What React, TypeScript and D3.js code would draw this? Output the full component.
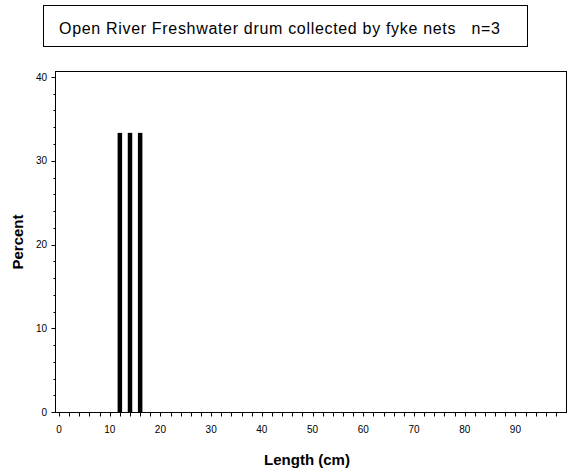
import React from "react";
import { scaleLinear, range } from "d3";

// length bins (cm) and the percent of fish in each
const lengthBins = [12, 14, 16];
const percentValues = [33.33, 33.33, 33.33];

const yMajorTicks = [0, 10, 20, 30, 40];
const yMinorTicks = range(0, 41, 2);
const xTickLabels = [0, 10, 20, 30, 40, 50, 60, 70, 80, 90];
const xTicks = range(0, 99, 2);

const titleText = "Open River Freshwater drum collected by fyke nets   n=3";

const App = () => {
  const width = 570,
    height = 475;
  const frame = { left: 55, right: 566, top: 71, bottom: 412 };

  const x = scaleLinear().domain([0, 98]).range([59, 556]);
  const y = scaleLinear().domain([0, 40]).range([412, 77]);
  const barWidth = 4.5;
  const font = "'Liberation Sans', Arial, sans-serif";

  return (
    <svg
      width={width}
      height={height}
      style={{ position: "absolute", left: 0, top: 0, background: "#fff" }}
      fontFamily={font}
    >
      {/* title box */}
      <rect x={43.5} y={5.5} width={484} height={41} fill="none" stroke="#000" />
      <text
        x={59}
        y={34}
        fontSize={16}
        textLength={441}
        lengthAdjust="spacing"
        style={{ whiteSpace: "pre" }}
      >
        {titleText}
      </text>

      {/* bars */}
      {lengthBins.map((d, i) => (
        <rect
          key={d}
          x={x(d) - barWidth / 2}
          y={y(percentValues[i])}
          width={barWidth}
          height={y(0) - y(percentValues[i])}
          fill="#000"
        />
      ))}

      {/* frame */}
      <rect
        x={frame.left + 0.5}
        y={frame.top + 0.5}
        width={frame.right - frame.left}
        height={frame.bottom - frame.top}
        fill="none"
        stroke="#000"
      />

      {/* y axis */}
      {yMinorTicks.map((t) => {
        const major = t % 10 === 0;
        return (
          <line
            key={t}
            x1={frame.left + 0.5}
            x2={frame.left + 0.5 - (major ? 4 : 2)}
            y1={Math.round(y(t)) + 0.5}
            y2={Math.round(y(t)) + 0.5}
            stroke="#000"
          />
        );
      })}
      {yMajorTicks.map((t) => (
        <text key={t} x={47} y={y(t) + 3.5} fontSize={10} textAnchor="end">
          {t}
        </text>
      ))}

      {/* x axis */}
      {xTicks.map((t) => (
        <line
          key={t}
          x1={Math.round(x(t)) + 0.5}
          x2={Math.round(x(t)) + 0.5}
          y1={frame.bottom + 0.5}
          y2={frame.bottom + 4.5}
          stroke="#000"
        />
      ))}
      {xTickLabels.map((t) => (
        <text key={t} x={x(t)} y={433} fontSize={10} textAnchor="middle">
          {t}
        </text>
      ))}

      {/* axis titles */}
      <text x={307} y={465} fontSize={15} fontWeight="bold" textAnchor="middle">
        Length (cm)
      </text>
      <text
        transform="translate(23, 242) rotate(-90)"
        fontSize={15}
        fontWeight="bold"
        textAnchor="middle"
      >
        Percent
      </text>
    </svg>
  );
};

export default App;
